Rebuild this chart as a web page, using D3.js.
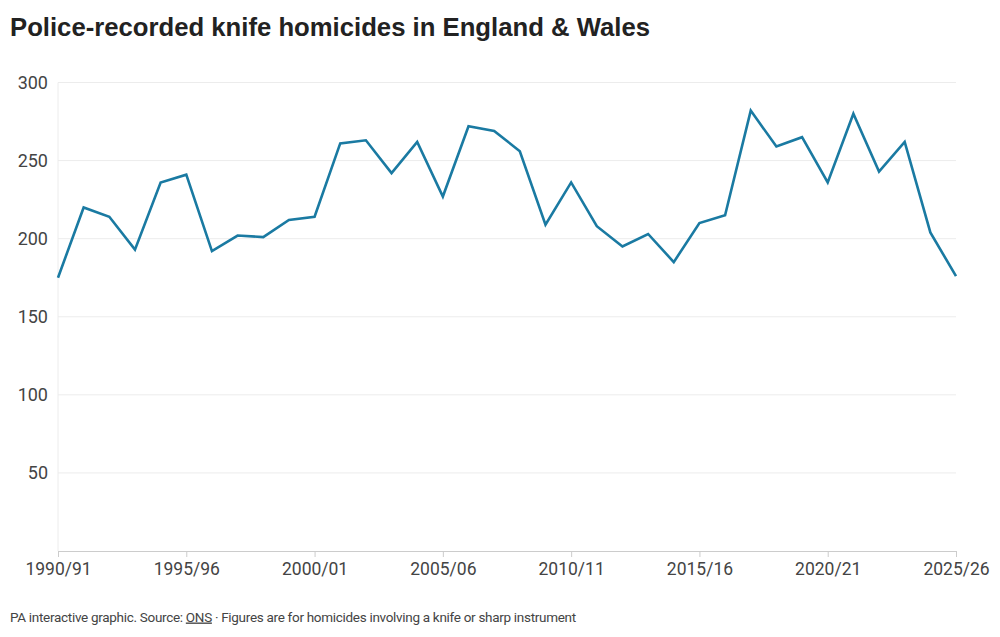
<!DOCTYPE html>
<html>
<head>
<meta charset="utf-8">
<script src="https://cdn.jsdelivr.net/npm/d3@7"></script>
<style>
  html, body { margin: 0; padding: 0; background: #fff; }
  svg { display: block; font-family: Roboto, "Liberation Sans", sans-serif; }
</style>
</head>
<body>
<svg id="chart" width="1000" height="637"></svg>
<script>
const years = ["1990/91","1991/92","1992/93","1993/94","1994/95","1995/96","1996/97","1997/98","1998/99","1999/00",
  "2000/01","2001/02","2002/03","2003/04","2004/05","2005/06","2006/07","2007/08","2008/09","2009/10",
  "2010/11","2011/12","2012/13","2013/14","2014/15","2015/16","2016/17","2017/18","2018/19","2019/20",
  "2020/21","2021/22","2022/23","2023/24","2024/25","2025/26"];
const homicides = [175,220,214,193,236,241,192,202,201,212,
  214,261,263,242,262,227,272,269,256,209,
  236,208,195,203,185,210,215,282,259,265,
  236,280,243,262,204,176];
const xTickLabels = ["1990/91","1995/96","2000/01","2005/06","2010/11","2015/16","2020/21","2025/26"];
const yTicks = [50,100,150,200,250,300];

const svg = d3.select("#chart");
const mLeft = 58, mRight = 956, mTop = 82.5, mBottom = 551;

const x = d3.scalePoint().domain(years).range([mLeft, mRight]);
const y = d3.scaleLinear().domain([0, 300]).range([mBottom, mTop]);

// title
svg.append("text").attr("x", 10).attr("y", 36)
  .attr("font-family", "'Liberation Sans', Arial, sans-serif")
  .attr("font-size", 25.7).attr("font-weight", 700).attr("fill", "#222")
  .text("Police-recorded knife homicides in England & Wales");

// gridlines
svg.append("g").selectAll("line").data(yTicks).join("line")
  .attr("x1", mLeft).attr("x2", mRight)
  .attr("y1", d => y(d)).attr("y2", d => y(d))
  .attr("stroke", "#ececec").attr("stroke-width", 1);

// left vertical line
svg.append("line").attr("x1", mLeft).attr("x2", mLeft).attr("y1", mTop).attr("y2", mBottom)
  .attr("stroke", "#ececec");

// y labels
svg.append("g").selectAll("text").data(yTicks).join("text")
  .attr("x", 48).attr("y", d => y(d)).attr("dy", "0.35em")
  .attr("text-anchor", "end").attr("font-size", 18).attr("fill", "#444")
  .text(d => d);

// x axis
const xAxis = d3.axisBottom(x).tickValues(xTickLabels).tickSize(6).tickPadding(6);
const gx = svg.append("g").attr("transform", `translate(0,${mBottom})`).call(xAxis);
gx.select(".domain").attr("stroke", "#ccc");
gx.selectAll(".tick line").attr("stroke", "#ccc");
gx.selectAll(".tick text").attr("font-size", 17.5).attr("fill", "#444")
  .attr("font-family", "Roboto, sans-serif");

// line
const line = d3.line().x((d, i) => x(years[i])).y(d => y(d));
svg.append("path").datum(homicides)
  .attr("d", line).attr("fill", "none")
  .attr("stroke", "#1a7aa2").attr("stroke-width", 2.6)
  .attr("stroke-linejoin", "miter");

// footer
const foot = svg.append("text").attr("x", 10).attr("y", 621.5)
  .attr("font-size", 13.5).attr("fill", "#444").attr("letter-spacing", -0.3);
foot.append("tspan").text("PA interactive graphic. Source: ");
foot.append("tspan").attr("text-decoration", "underline").text("ONS");
foot.append("tspan").text(" · Figures are for homicides involving a knife or sharp instrument");
</script>
</body>
</html>
